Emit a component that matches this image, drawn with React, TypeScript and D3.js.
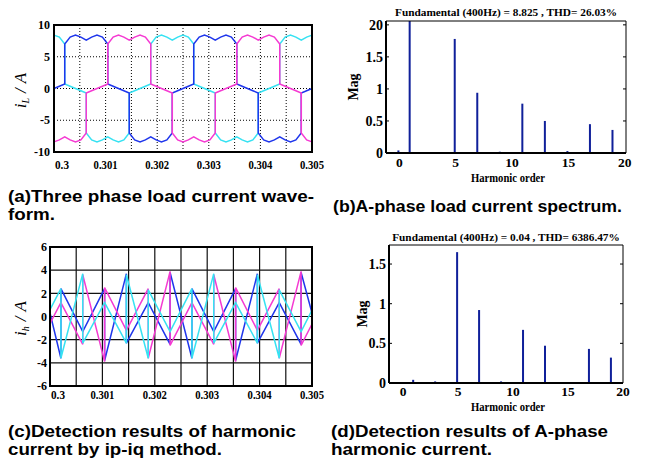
import React from 'react';
import * as d3 from 'd3';

const SERIF = '"Liberation Serif", "Times New Roman", serif';
const SANS = '"Liberation Sans", Arial, sans-serif';

const BLUE = '#1f36ec';
const MAGENTA = '#f53ad2';
const CYAN = '#36e2f2';
const BAR = '#10209a';

// three phase load current, sample times (s) and values (A)
const loadTime = [
  0.3, 0.300104, 0.300208, 0.300208, 0.300313, 0.300417, 0.300521, 0.300625, 0.300625,
  0.300729, 0.300833, 0.300938, 0.301042, 0.301042, 0.301146, 0.30125, 0.301354, 0.301458, 0.301458,
  0.301563, 0.301667, 0.301771, 0.301875, 0.301875, 0.301979, 0.302083, 0.302188, 0.302292, 0.302292,
  0.302396, 0.3025, 0.302604, 0.302708, 0.302708, 0.302813, 0.302917, 0.303021, 0.303125, 0.303125,
  0.303229, 0.303333, 0.303438, 0.303542, 0.303542, 0.303646, 0.30375, 0.303854, 0.303958, 0.303958,
  0.304063, 0.304167, 0.304271, 0.304375, 0.304375, 0.304479, 0.304583, 0.304688, 0.304792, 0.304792,
  0.304896, 0.305,
];
const loadA = [
  0, 0.35, 0.7, 7.0, 8.1, 8.4, 8.1, 7.6, 7.6,
  8.1, 8.4, 8.1, 7.0, 0.7, 0.35, 0, -0.35, -0.7, -7.0,
  -8.1, -8.4, -8.1, -7.6, -7.6, -8.1, -8.4, -8.1, -7.0, -0.7,
  -0.35, 0, 0.35, 0.7, 7.0, 8.1, 8.4, 8.1, 7.6, 7.6,
  8.1, 8.4, 8.1, 7.0, 0.7, 0.35, 0, -0.35, -0.7, -7.0,
  -8.1, -8.4, -8.1, -7.6, -7.6, -8.1, -8.4, -8.1, -7.0, -0.7,
  -0.35, 0,
];
const loadB = [
  -8.4, -8.1, -7.6, -7.6, -8.1, -8.4, -8.1, -7.0, -0.7,
  -0.35, 0, 0.35, 0.7, 7.0, 8.1, 8.4, 8.1, 7.6, 7.6,
  8.1, 8.4, 8.1, 7.0, 0.7, 0.35, 0, -0.35, -0.7, -7.0,
  -8.1, -8.4, -8.1, -7.6, -7.6, -8.1, -8.4, -8.1, -7.0, -0.7,
  -0.35, 0, 0.35, 0.7, 7.0, 8.1, 8.4, 8.1, 7.6, 7.6,
  8.1, 8.4, 8.1, 7.0, 0.7, 0.35, 0, -0.35, -0.7, -7.0,
  -8.1, -8.4,
];
const loadC = [
  8.4, 8.1, 7.0, 0.7, 0.35, 0, -0.35, -0.7, -7.0,
  -8.1, -8.4, -8.1, -7.6, -7.6, -8.1, -8.4, -8.1, -7.0, -0.7,
  -0.35, 0, 0.35, 0.7, 7.0, 8.1, 8.4, 8.1, 7.6, 7.6,
  8.1, 8.4, 8.1, 7.0, 0.7, 0.35, 0, -0.35, -0.7, -7.0,
  -8.1, -8.4, -8.1, -7.6, -7.6, -8.1, -8.4, -8.1, -7.0, -0.7,
  -0.35, 0, 0.35, 0.7, 7.0, 8.1, 8.4, 8.1, 7.6, 7.6,
  8.1, 8.4,
];

// detected harmonic current (ip-iq)
const harmTime = [
  0.3, 0.300208, 0.300208, 0.300625, 0.300625, 0.301042, 0.301042, 0.301458, 0.301458,
  0.301875, 0.301875, 0.302292, 0.302292, 0.302708, 0.302708, 0.303125, 0.303125,
  0.303542, 0.303542, 0.303958, 0.303958, 0.304375, 0.304375, 0.304792, 0.304792, 0.305,
];
const harmA = [
  0.3, -3.6, 2.4, -1.3, -1.3, 2.4, -3.8, 3.7, -2.3, 1.2, 1.2, -2.4, 3.8,
  -3.6, 2.4, -1.3, -1.3, 2.4, -3.8, 3.7, -2.3, 1.2, 1.2, -2.4, 3.8, 0.3,
];
const harmB = [
  -0.6, 1.2, 1.2, -2.4, 3.6, -3.9, 2.5, -1.2, -1.2, 2.4, -3.6, 3.9, -2.5,
  1.2, 1.2, -2.4, 3.6, -3.9, 2.5, -1.2, -1.2, 2.4, -3.6, 3.9, -2.5, -0.65,
];
const harmC = [
  0.6, 2.4, -3.6, 3.7, -2.3, 1.2, 1.2, -2.3, 3.6, -3.6, 2.3, -1.3, -1.3,
  2.4, -3.6, 3.7, -2.3, 1.2, 1.2, -2.3, 3.6, -3.6, 2.3, -1.3, -1.3, 0.55,
];

const timeTicks = [0.3, 0.301, 0.302, 0.303, 0.304, 0.305];
const timeTickLabels = ['0.3', '0.301', '0.302', '0.303', '0.304', '0.305'];

// spectra
const orders = [0, 1, 3, 5, 7, 9, 11, 13, 15, 17, 19];
const loadMag = [0.04, 8.825, 0.01, 1.78, 0.94, 0.02, 0.77, 0.5, 0.03, 0.45, 0.36];
const harmMag = [0.01, 0.04, 0.02, 1.65, 0.92, 0.02, 0.67, 0.47, 0.01, 0.43, 0.32];
const orderTicks = [0, 5, 10, 15, 20];
const loadMagTicks = [0, 0.5, 1, 1.5, 2];
const loadMagTickLabels = ['0', '0.5', '1', '1.5', '20'];
const harmMagTicks = [0, 0.5, 1, 1.5];
const harmMagTickLabels = ['0', '0.5', '1', '1.5'];

function Wave({ left, right, top, bottom, yDomain, yTicks, time, series, dotted, sub, yLabelX, tickBase, yLabelRight }) {
  const x = d3.scaleLinear().domain([0.3, 0.305]).range([left, right]);
  const y = d3.scaleLinear().domain(yDomain).range([bottom, top]);
  const line = d3.line<number>().x((_, i) => x(time[i])).y((d) => y(d));
  const gridStyle = dotted
    ? { stroke: '#000', strokeWidth: 1, strokeDasharray: '1 2' }
    : { stroke: '#111', strokeWidth: 1.2 };
  return (
    <g>
      {x.ticks(10).map((t) => (
        <line key={'gx' + t} x1={x(t)} x2={x(t)} y1={top} y2={bottom} {...gridStyle} />
      ))}
      {yTicks.map((t) => (
        <line key={'gy' + t} x1={left} x2={right} y1={y(t)} y2={y(t)} {...gridStyle} />
      ))}
      {series.map((s, i) => (
        <path key={i} d={line(s.values) || ''} fill="none" stroke={s.color} strokeWidth={1.5} />
      ))}
      <rect x={left} y={top} width={right - left} height={bottom - top} fill="none" stroke="#000" strokeWidth={2} />
      <g fontFamily={SERIF} fontWeight="bold" fontSize={12} fill="#000">
        {yTicks.map((t) => (
          <text key={'ly' + t} x={yLabelRight} y={y(t)} dy="0.35em" textAnchor="end">{t}</text>
        ))}
        {timeTicks.map((t, i) => (
          <text
            key={'lx' + t}
            x={x(t) + (i === 0 ? 8 : 0)}
            y={tickBase}
            textAnchor="middle"
            textLength={i === 0 ? 14 : 24}
            lengthAdjust="spacingAndGlyphs"
          >
            {timeTickLabels[i]}
          </text>
        ))}
      </g>
      <text
        transform={`translate(${yLabelX},${(top + bottom) / 2 + 2}) rotate(-90)`}
        textAnchor="middle"
        fontFamily={SERIF}
        fontStyle="italic"
        fontSize={17}
      >
        i<tspan fontSize={10} dy={3}>{sub}</tspan>
        <tspan dy={-3} dx={5}>/</tspan>
        <tspan dx={5}>A</tspan>
      </text>
    </g>
  );
}

function Spectrum({ left, right, top, bottom, xDomain, yMax, yTicks, yTickLabels, mags, title, titleBase, tickBase, xLabelBase, magX, yLabelRight }) {
  const x = d3.scaleLinear().domain(xDomain).range([left, right]);
  const y = d3.scaleLinear().domain([0, yMax]).range([bottom, top]);
  return (
    <g>
      {orders.map((o, i) => {
        const v = Math.min(mags[i], yMax);
        return <rect key={o} x={x(o) - 1} y={y(v)} width={2} height={bottom - y(v)} fill={BAR} />;
      })}
      <line x1={left} x2={right} y1={top} y2={top} stroke="#000" strokeWidth={1} />
      <line x1={right} x2={right} y1={top} y2={bottom} stroke="#000" strokeWidth={1} />
      <line x1={left} x2={left} y1={top} y2={bottom} stroke="#000" strokeWidth={2} />
      <line x1={left} x2={right} y1={bottom} y2={bottom} stroke="#000" strokeWidth={2} />
      {yTicks.map((t) => (
        <g key={'t' + t}>
          <line x1={left} x2={left + 3} y1={y(t)} y2={y(t)} stroke="#000" />
          <line x1={right} x2={right - 3} y1={y(t)} y2={y(t)} stroke="#000" />
        </g>
      ))}
      <g fontFamily={SERIF} fontWeight="bold" fill="#000">
        <text x={(left + right) / 2} y={titleBase} textAnchor="middle" fontSize={11.3}>{title}</text>
        {yTicks.map((t, i) => (
          <text key={'ly' + t} x={yLabelRight} y={y(t)} dy="0.35em" textAnchor="end" fontSize={14}>{yTickLabels[i]}</text>
        ))}
        {orderTicks.map((t) => (
          <text key={'lx' + t} x={x(t) + 1} y={tickBase} textAnchor="middle" fontSize={13.5}>{t}</text>
        ))}
        <text x={(left + right) / 2 + 2} y={xLabelBase} textAnchor="middle" fontSize={12} textLength={74} lengthAdjust="spacingAndGlyphs">
          Harmonic order
        </text>
        <text transform={`translate(${magX},${(top + bottom) / 2}) rotate(-90)`} textAnchor="middle" fontSize={14}>Mag</text>
      </g>
    </g>
  );
}

// caption lines stretched to the widths measured in the reference
function Caption({ x, y, lines, widths }) {
  return (
    <g fontFamily={SANS} fontWeight="bold" fontSize={16} fill="#000">
      {lines.map((l, i) => (
        <text key={i} x={x} y={y + i * 18} textLength={widths[i]} lengthAdjust="spacingAndGlyphs">{l}</text>
      ))}
    </g>
  );
}

export default function App() {
  return (
    <svg width={646} height={458} style={{ position: 'absolute', left: 0, top: 0, background: '#fff' }}>
      <Wave
        left={54} right={312} top={25} bottom={152}
        yDomain={[-10, 10]} yTicks={[-10, -5, 0, 5, 10]}
        time={loadTime}
        series={[
          { values: loadC, color: CYAN },
          { values: loadA, color: BLUE },
          { values: loadB, color: MAGENTA },
        ]}
        dotted sub="L" yLabelX={26} tickBase={169} yLabelRight={50}
      />
      <Spectrum
        left={386} right={626} top={21} bottom={153}
        xDomain={[-1.1, 20.2]} yMax={2.06}
        yTicks={loadMagTicks} yTickLabels={loadMagTickLabels}
        mags={loadMag}
        title="Fundamental (400Hz) = 8.825 , THD= 26.03%"
        titleBase={16} tickBase={167} xLabelBase={182} magX={358} yLabelRight={383}
      />
      <Wave
        left={50} right={312} top={247} bottom={386}
        yDomain={[-6, 6]} yTicks={[-6, -4, -2, 0, 2, 4, 6]}
        time={harmTime}
        series={[
          { values: harmA, color: BLUE },
          { values: harmB, color: MAGENTA },
          { values: harmC, color: CYAN },
        ]}
        dotted={false} sub="h" yLabelX={26} tickBase={399} yLabelRight={47}
      />
      <Spectrum
        left={389} right={623} top={245} bottom={383}
        xDomain={[-1.2, 20.1]} yMax={1.74}
        yTicks={harmMagTicks} yTickLabels={harmMagTickLabels}
        mags={harmMag}
        title="Fundamental (400Hz) = 0.04 , THD= 6386.47%"
        titleBase={241} tickBase={396} xLabelBase={411} magX={367} yLabelRight={386}
      />
      <Caption x={8} y={202} lines={['(a)Three phase load current wave-', 'form.']} widths={[306, 47]} />
      <Caption x={333} y={212} lines={['(b)A-phase load current spectrum.']} widths={[289]} />
      <Caption x={8} y={437} lines={['(c)Detection results of harmonic', 'current by ip-iq method.']} widths={[288, 214]} />
      <Caption x={331} y={437} lines={['(d)Detection results of A-phase', 'harmonic current.']} widths={[277, 161]} />
    </svg>
  );
}
